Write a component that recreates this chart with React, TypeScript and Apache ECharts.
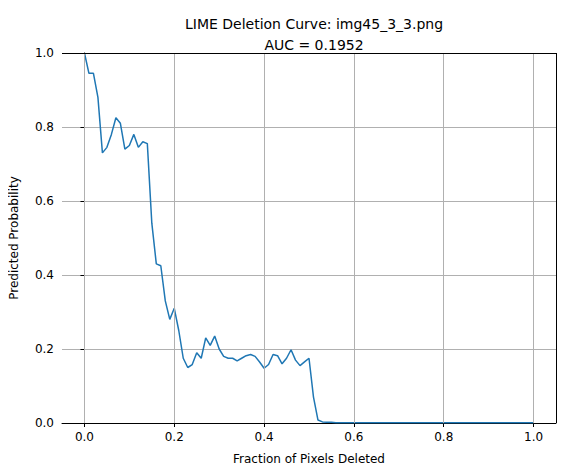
import React, { useEffect, useRef } from "react";
import * as echarts from "echarts";

const head = [1.0, 0.945, 0.945, 0.88, 0.73, 0.745, 0.78, 0.825, 0.81, 0.74, 0.75, 0.78, 0.745, 0.76, 0.755, 0.54, 0.43, 0.425, 0.33, 0.28, 0.31, 0.25, 0.175, 0.15, 0.158, 0.19, 0.175, 0.23, 0.21, 0.235, 0.2, 0.18, 0.175, 0.175, 0.168, 0.175, 0.182, 0.185, 0.18, 0.165, 0.148, 0.158, 0.185, 0.182, 0.16, 0.175, 0.198, 0.17, 0.155, 0.165, 0.175, 0.07, 0.008, 0.003, 0.002, 0.002, 0.001, 0.001, 0.001, 0.001];
const tail = [0.001, 0.001, 0.001, 0.001, 0.001, 0.001, 0.001, 0.001, 0.001, 0.001, 0.001, 0.001, 0.001, 0.001, 0.001, 0.001, 0.001, 0.001, 0.001, 0.001, 0.001, 0.001, 0.001, 0.001, 0.001, 0.001, 0.001, 0.001, 0.001, 0.001, 0.001, 0.001, 0.001, 0.001, 0.001, 0.001, 0.001, 0.001, 0.001, 0.001, 0.001];
const probabilities = [...head, ...tail];
const fractions = probabilities.map((_, i) => i / (probabilities.length - 1));
const xTicks = [0, 0.2, 0.4, 0.6, 0.8, 1.0];

export default function App() {
  const ref = useRef<HTMLDivElement>(null);
  useEffect(() => {
    const chart = echarts.init(ref.current!, null, { renderer: "svg" });
    const font = "DejaVu Sans";
    chart.setOption({
      animation: false,
      textStyle: { fontFamily: font },
      title: {
        text: "LIME Deletion Curve: img45_3_3.png\nAUC = 0.1952",
        left: 309, top: 8, textAlign: "center",
        textStyle: { fontSize: 14, fontWeight: "normal", color: "#000", lineHeight: 21, fontFamily: font },
      },
      grid: { left: 62, right: 11, top: 53, bottom: 53 },
      xAxis: {
        type: "value", min: -0.05, max: 1.05,
        name: "Fraction of Pixels Deleted", nameLocation: "middle", nameGap: 30,
        nameTextStyle: { fontSize: 12, color: "#000" },
        axisLine: { show: true, onZero: false, lineStyle: { color: "#000" } },
        axisTick: { show: true, customValues: xTicks, lineStyle: { color: "#000" }, length: 4 },
        axisLabel: { customValues: xTicks, formatter: (v: number) => v.toFixed(1), color: "#000", fontSize: 12 },
        splitLine: { show: false },
      },
      yAxis: {
        type: "value", min: 0, max: 1, interval: 0.2,
        name: "Predicted Probability", nameLocation: "middle", nameGap: 42,
        nameTextStyle: { fontSize: 12, color: "#000" },
        axisLine: { show: true, lineStyle: { color: "#000" } },
        axisTick: { show: true, lineStyle: { color: "#000" }, length: 4 },
        axisLabel: { formatter: (v: number) => v.toFixed(1), color: "#000", fontSize: 12 },
        splitLine: { show: true, lineStyle: { color: "#b0b0b0" } },
      },
      series: [
        {
          type: "line", data: fractions.map((f, i) => [f, probabilities[i]]),
          showSymbol: false, lineStyle: { color: "#1f77b4", width: 1.5 },
          markLine: {
            silent: true, symbol: "none", label: { show: false },
            lineStyle: { color: "#b0b0b0", type: "solid", width: 1 },
            data: xTicks.map((x) => ({ xAxis: x })),
          },
        },
        {
          type: "line", data: [], markLine: {
            silent: true, symbol: "none", label: { show: false },
            lineStyle: { color: "#000", type: "solid", width: 1 },
            data: [{ xAxis: 1.05 }, { yAxis: 1 }],
          },
        },
      ],
    });
    return () => chart.dispose();
  }, []);
  return <div ref={ref} style={{ width: 567, height: 476, margin: -8 }} />;
}
